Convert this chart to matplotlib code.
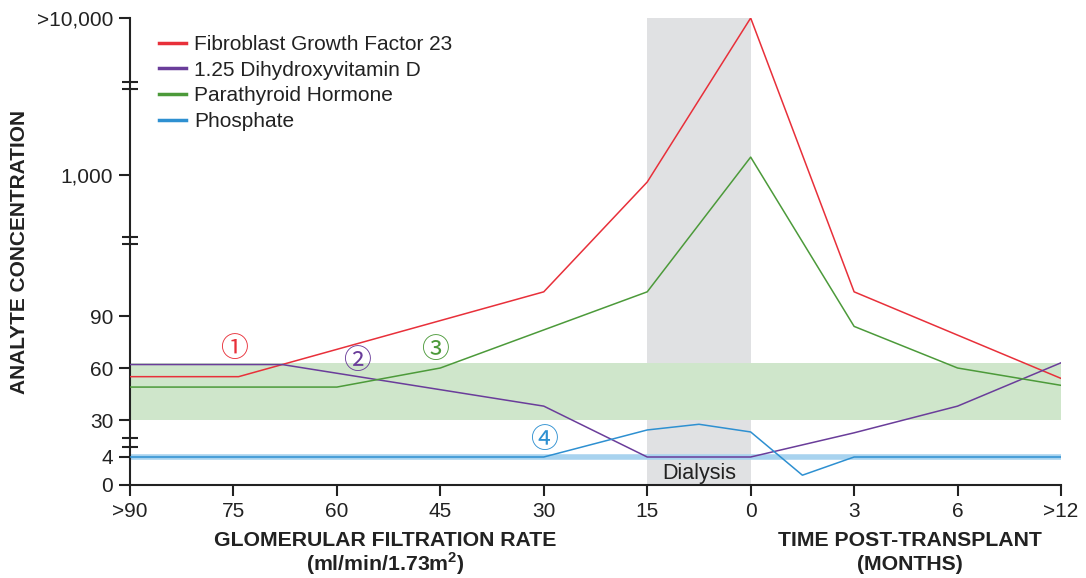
import numpy as np
import matplotlib
matplotlib.use("Agg")
import matplotlib.pyplot as plt

plt.rcParams['font.family'] = ['Liberation Sans', 'DejaVu Sans']
plt.rcParams['mathtext.fontset'] = 'custom'
plt.rcParams['mathtext.bf'] = 'Liberation Sans:bold'
plt.rcParams['mathtext.rm'] = 'Liberation Sans'

# x positions are category slots (0 = >90 ... 9 = >12)
x_labels = ['>90', '75', '60', '45', '30', '15', '0', '3', '6', '>12']

fgf23_x = [0, 1.05, 4, 5, 6, 7, 9]
fgf23_y = [55, 55, 136, 887, 10000, 136, 54]

vitd_x = [0, 1.47, 4, 5, 6, 7, 8, 9]
vitd_y = [62, 62, 38, 4, 4, 21, 38, 63]

pth_x = [0, 2, 3, 5, 6, 7, 8, 9]
pth_y = [49, 49, 60, 136, 1300, 84, 60, 50]

phos_x = [0, 4, 5, 5.5, 6, 6.5, 7, 9]
phos_y = [4, 4, 23, 27, 21.6, 1.4, 4, 4]

y_ticks = [0, 4, 30, 60, 90, 1000, 10000]
y_ticklabels = ['0', '4', '30', '60', '90', '1,000', '>10,000']

normal_lo, normal_hi = 30, 63
phos_normal = 4
dialysis_span = (5, 6)

# broken axis: piecewise scale (linear below 90, log above)
lin_v = [0, 4, 30, 90]
lin_p = [0, 28, 65, 169]
log_v = [np.log10(90), 3, 4]
log_p = [169, 310, 467]


def forward(v):
    v = np.asarray(v, dtype=float)
    lo = np.interp(v, lin_v, lin_p)
    hi = np.interp(np.log10(np.maximum(v, 1e-9)), log_v, log_p)
    return np.where(v <= 90, lo, hi)


def inverse(p):
    p = np.asarray(p, dtype=float)
    lo = np.interp(p, lin_p, lin_v)
    hi = 10 ** np.interp(p, log_p, log_v)
    return np.where(p <= 169, lo, hi)


break_pos = [38, 47, 241, 248, 396, 403]
break_vals = inverse(break_pos)

fig = plt.figure(figsize=(10.86, 5.78), dpi=100)
ax = fig.add_axes([130 / 1086, 1 - 485 / 578, 931 / 1086, 467 / 578])
ax.set_yscale('function', functions=(forward, inverse))
ax.set_xlim(0, 9)
ax.set_ylim(0, 10000)

ax.axvspan(*dialysis_span, color='#e0e1e3', zorder=0, lw=0)
ax.axhspan(normal_lo, normal_hi, color='#cfe6cb', zorder=0.5, lw=0)
ax.axhline(phos_normal, color='#a8d3ef', lw=4, zorder=1)

red, purple, green, blue = '#e8303a', '#6a3d9a', '#4c9a3a', '#2e90d1'
ax.plot(fgf23_x, fgf23_y, color=red, lw=1.1, label='Fibroblast Growth Factor 23', zorder=3)
ax.plot(vitd_x, vitd_y, color=purple, lw=1.1, label='1.25 Dihydroxyvitamin D', zorder=3)
ax.plot(pth_x, pth_y, color=green, lw=1.1, label='Parathyroid Hormone', zorder=3)
ax.plot(phos_x, phos_y, color=blue, lw=1.1, label='Phosphate', zorder=3)

circ_font = ['Noto Sans CJK SC', 'DejaVu Sans']
ax.text(1.0, 71, '①', color=red, fontsize=20, ha='center', va='center', family=circ_font)
ax.text(2.19, 64, '②', color=purple, fontsize=20, ha='center', va='center', family=circ_font)
ax.text(2.95, 70.4, '③', color=green, fontsize=20, ha='center', va='center', family=circ_font)
ax.text(4.0, 16, '④', color=blue, fontsize=20, ha='center', va='center', family=circ_font)

ax.text(5.5, 1.6, 'Dialysis', color='#222222', fontsize=15.5, ha='center', va='center')

ax.set_xticks(range(len(x_labels)))
ax.set_xticklabels(x_labels)
ax.set_yticks(y_ticks)
ax.set_yticklabels(y_ticklabels)
ax.set_yticks(break_vals, minor=True)
ax.tick_params(axis='both', which='major', direction='out', length=8, width=1.5,
               labelsize=15, colors='#222222', pad=4)
ax.tick_params(axis='y', which='minor', direction='inout', length=12, width=1.5, color='#222222')
ax.tick_params(axis='x', which='minor', length=0)

for s in ['top', 'right']:
    ax.spines[s].set_visible(False)
ax.spines['left'].set_linewidth(1.5)
ax.spines['bottom'].set_linewidth(1.5)
ax.spines['left'].set_color('#222222')
ax.spines['bottom'].set_color('#222222')

leg = ax.legend(loc='upper left', bbox_to_anchor=(0.015, 0.995), frameon=False, fontsize=15,
                handlelength=1.3, handletextpad=0.4, labelspacing=0.32, borderaxespad=0.3)
for h in leg.get_lines():
    h.set_linewidth(2.5)
for t in leg.get_texts():
    t.set_color('#222222')

ax.set_ylabel('ANALYTE CONCENTRATION', fontsize=15, fontweight='bold', color='#222222')
ax.yaxis.set_label_coords(-0.108, 0.5)

fig.text(385 / 1086, 1 - 541 / 578, 'GLOMERULAR FILTRATION RATE', ha='center', va='center',
         fontsize=15.3, fontweight='bold', color='#222222')
fig.text(385 / 1086, 1 - 564 / 578, r'(ml/min/1.73m$^{\mathbf{2}}$)', ha='center', va='center',
         fontsize=15.3, fontweight='bold', color='#222222')
fig.text(910 / 1086, 1 - 541 / 578, 'TIME POST-TRANSPLANT', ha='center', va='center',
         fontsize=15.3, fontweight='bold', color='#222222')
fig.text(910 / 1086, 1 - 564 / 578, '(MONTHS)', ha='center', va='center',
         fontsize=15.3, fontweight='bold', color='#222222')

fig.savefig('out.png', dpi=100)
